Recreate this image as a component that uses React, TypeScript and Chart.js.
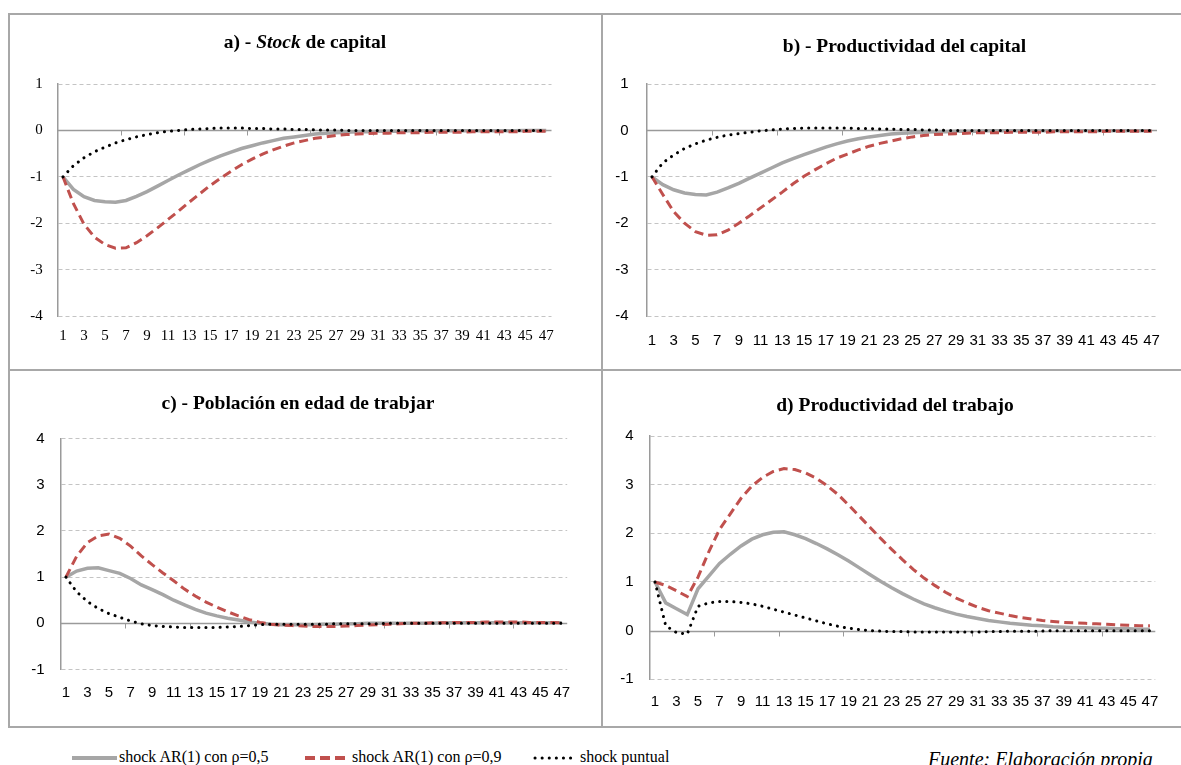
import React, { useEffect, useRef } from 'react';
import { Chart, registerables } from 'chart.js';

Chart.register(...registerables);

// ---------- DATA ----------
const periods = [
  '1', '2', '3', '4', '5', '6', '7', '8', '9', '10',
  '11', '12', '13', '14', '15', '16', '17', '18', '19', '20',
  '21', '22', '23', '24', '25', '26', '27', '28', '29', '30',
  '31', '32', '33', '34', '35', '36', '37', '38', '39', '40',
  '41', '42', '43', '44', '45', '46', '47',
];

const seriesNames = ['shock AR(1) con ρ=0,5', 'shock AR(1) con ρ=0,9', 'shock puntual'];

// a) Stock de capital
const stockAR05 = [
  -1.0, -1.27, -1.43, -1.51, -1.54, -1.55, -1.51, -1.42, -1.32, -1.2,
  -1.08, -0.96, -0.85, -0.74, -0.64, -0.55, -0.47, -0.39, -0.33, -0.27,
  -0.22, -0.17, -0.14, -0.11, -0.08, -0.06, -0.05, -0.04, -0.03, -0.03,
  -0.02, -0.02, -0.02, -0.01, -0.01, -0.01, -0.01, -0.01, -0.01, -0.01,
  -0.01, -0.01, -0.01, -0.01, 0, 0, 0,
];
const stockAR09 = [
  -1.0, -1.58, -2.02, -2.3, -2.46, -2.54, -2.53, -2.42, -2.27, -2.1,
  -1.92, -1.74, -1.55, -1.37, -1.19, -1.03, -0.88, -0.74, -0.62, -0.51,
  -0.42, -0.34, -0.27, -0.22, -0.17, -0.14, -0.11, -0.09, -0.08, -0.07,
  -0.06, -0.06, -0.05, -0.05, -0.05, -0.04, -0.04, -0.04, -0.04, -0.03,
  -0.03, -0.03, -0.03, -0.03, -0.02, -0.02, -0.02,
];
const stockPuntual = [
  -1.0, -0.76, -0.59, -0.46, -0.36, -0.27, -0.2, -0.14, -0.09, -0.05,
  -0.02, 0.0, 0.02, 0.03, 0.04, 0.05, 0.05, 0.05, 0.04, 0.04,
  0.03, 0.03, 0.02, 0.02, 0.01, 0.01, 0.01, 0, 0, 0,
  0, 0, 0, 0, 0, 0, 0, 0, 0, 0,
  0, 0, 0, 0, 0, 0, 0,
];

// b) Productividad del capital
const prodCapAR05 = [
  -1.0, -1.17, -1.28, -1.35, -1.38, -1.39, -1.33, -1.24, -1.14, -1.03,
  -0.92, -0.81, -0.7, -0.61, -0.52, -0.44, -0.36, -0.29, -0.23, -0.18,
  -0.14, -0.11, -0.08, -0.06, -0.05, -0.04, -0.03, -0.03, -0.02, -0.02,
  -0.02, -0.01, -0.01, -0.01, -0.01, -0.01, -0.01, -0.01, -0.01, -0.01,
  -0.01, -0.01, -0.01, -0.01, -0.01, -0.01, -0.01,
];
const prodCapAR09 = [
  -1.0, -1.38, -1.75, -2.0, -2.18, -2.26, -2.25, -2.15, -2.0, -1.84,
  -1.67, -1.5, -1.33, -1.15, -0.99, -0.85, -0.72, -0.6, -0.51, -0.42,
  -0.34, -0.28, -0.23, -0.18, -0.14, -0.11, -0.09, -0.08, -0.07, -0.06,
  -0.05, -0.05, -0.05, -0.04, -0.04, -0.04, -0.04, -0.03, -0.03, -0.03,
  -0.03, -0.03, -0.02, -0.02, -0.02, -0.02, -0.02,
];
const prodCapPuntual = [
  -1.0, -0.7, -0.53, -0.39, -0.29, -0.21, -0.15, -0.1, -0.07, -0.04,
  -0.01, 0.01, 0.03, 0.04, 0.05, 0.05, 0.05, 0.05, 0.05, 0.04,
  0.04, 0.03, 0.03, 0.02, 0.02, 0.01, 0.01, 0, 0, 0,
  0, 0, 0, 0, 0, 0, 0, 0, 0, 0,
  0, 0, 0, 0, 0, 0, 0,
];

// c) Población en edad de trabajar
const poblAR05 = [
  1.0, 1.13, 1.19, 1.2, 1.14, 1.08, 0.97, 0.83, 0.73, 0.62,
  0.5, 0.4, 0.3, 0.22, 0.16, 0.11, 0.07, 0.03, 0.0, -0.02,
  -0.03, -0.03, -0.03, -0.03, -0.02, -0.02, -0.01, -0.01, 0, 0,
  0, 0, 0, 0, 0, 0.01, 0.01, 0.01, 0.01, 0.01,
  0.01, 0.01, 0.01, 0.01, 0.01, 0.01, 0.01,
];
const poblAR09 = [
  1.0, 1.45, 1.75, 1.89, 1.93, 1.84, 1.67, 1.46, 1.27, 1.09,
  0.92, 0.74, 0.59, 0.46, 0.35, 0.25, 0.16, 0.08, 0.02, -0.02,
  -0.04, -0.05, -0.06, -0.07, -0.07, -0.07, -0.06, -0.05, -0.04, -0.03,
  -0.02, -0.01, 0.0, 0.0, 0.01, 0.01, 0.02, 0.02, 0.02, 0.03,
  0.03, 0.03, 0.03, 0.02, 0.02, 0.02, 0.01,
];
const poblPuntual = [
  1.0, 0.68, 0.47, 0.32, 0.21, 0.13, 0.05, -0.01, -0.05, -0.07,
  -0.08, -0.09, -0.09, -0.09, -0.09, -0.08, -0.07, -0.05, -0.03, -0.02,
  -0.02, -0.02, -0.02, -0.02, -0.02, -0.01, -0.01, -0.01, -0.01, -0.01,
  0, 0, 0, 0, 0, 0, 0, 0, 0, 0,
  0, 0, 0, 0, 0, 0, 0,
];

// d) Productividad del trabajo
const prodTrabAR05 = [
  1.0, 0.57, 0.45, 0.33, 0.86, 1.12, 1.38, 1.57, 1.74, 1.88,
  1.97, 2.02, 2.03, 1.97, 1.89, 1.79, 1.68, 1.56, 1.43, 1.29,
  1.15, 1.01, 0.88, 0.76, 0.65, 0.55, 0.47, 0.4, 0.34, 0.29,
  0.25, 0.21, 0.18, 0.15, 0.13, 0.11, 0.1, 0.08, 0.07, 0.06,
  0.06, 0.05, 0.05, 0.04, 0.04, 0.03, 0.03,
];
const prodTrabAR09 = [
  1.0, 0.93, 0.82, 0.7, 1.1, 1.62, 2.08, 2.4, 2.72, 2.97,
  3.15, 3.27, 3.33, 3.31, 3.24, 3.13, 2.98, 2.8, 2.58, 2.35,
  2.12, 1.89, 1.67, 1.46, 1.26, 1.08, 0.93, 0.79, 0.67, 0.57,
  0.48, 0.41, 0.36, 0.31, 0.27, 0.24, 0.21, 0.19, 0.17, 0.16,
  0.15, 0.14, 0.13, 0.12, 0.11, 0.1, 0.1,
];
const prodTrabPuntual = [
  1.0, 0.1, -0.04, -0.07, 0.5, 0.57, 0.6, 0.6, 0.58, 0.55,
  0.5, 0.44, 0.38, 0.32, 0.26, 0.2, 0.14, 0.09, 0.05, 0.02,
  0.0, -0.01, -0.02, -0.02, -0.03, -0.03, -0.03, -0.03, -0.03, -0.03,
  -0.03, -0.02, -0.02, -0.01, -0.01, -0.01, -0.01, 0, 0, 0,
  0, 0, 0, 0, 0, 0, 0,
];

// ---------- STYLE ----------
const GRAY = '#a6a6a6';
const RED = '#c0504d';
const BLACK = '#000000';
const AXIS = '#9a9a9a';
const GRID = '#c4c4c4';
const SERIF = "'Liberation Serif', 'Times New Roman', serif";
const SANS = "'Liberation Sans Narrow', 'Liberation Sans', Arial, sans-serif";

type Rect = { left: number; top: number; width: number; height: number };
type Area = { left: number; top: number; right: number; bottom: number };
type Spec = {
  key: string;
  canvas: Rect;
  area: Area;
  yMin: number;
  yMax: number;
  font: string;
  fontSize: number;
  xPad: number;
  yPad: number;
  series: number[][];
};

const specs: Spec[] = [
  {
    key: 'a',
    canvas: { left: 10, top: 15, width: 591, height: 354 },
    area: { left: 57.7, top: 84, right: 551.5, bottom: 316 },
    yMin: -4, yMax: 1, font: SERIF, fontSize: 15, xPad: 11, yPad: 15,
    series: [stockAR05, stockAR09, stockPuntual],
  },
  {
    key: 'b',
    canvas: { left: 603, top: 15, width: 578, height: 354 },
    area: { left: 646.5, top: 84, right: 1157, bottom: 316 },
    yMin: -4, yMax: 1, font: SANS, fontSize: 15, xPad: 15.5, yPad: 18,
    series: [prodCapAR05, prodCapAR09, prodCapPuntual],
  },
  {
    key: 'c',
    canvas: { left: 10, top: 372, width: 591, height: 354 },
    area: { left: 60.5, top: 438.5, right: 567.2, bottom: 669.5 },
    yMin: -1, yMax: 4, font: SANS, fontSize: 15, xPad: 14, yPad: 16,
    series: [poblAR05, poblAR09, poblPuntual],
  },
  {
    key: 'd',
    canvas: { left: 603, top: 372, width: 578, height: 354 },
    area: { left: 649.6, top: 436, right: 1155.3, bottom: 679.3 },
    yMin: -1, yMax: 4, font: SANS, fontSize: 15, xPad: 13.5, yPad: 16,
    series: [prodTrabAR05, prodTrabAR09, prodTrabPuntual],
  },
];

function Panel({ spec }: { spec: Spec }) {
  const ref = useRef<HTMLCanvasElement | null>(null);

  useEffect(() => {
    const el = ref.current;
    if (!el) return;
    const { canvas, area } = spec;

    const zeroAxis = {
      id: 'zeroAxis',
      beforeDatasetsDraw(chart: any) {
        const { ctx, chartArea, scales } = chart;
        const y0 = Math.round(scales.y.getPixelForValue(0)) + 0.5;
        ctx.save();
        ctx.strokeStyle = AXIS;
        ctx.lineWidth = 1.5;
        ctx.setLineDash([]);
        ctx.beginPath();
        ctx.moveTo(chartArea.left, y0);
        ctx.lineTo(chartArea.right, y0);
        ctx.stroke();
        ctx.lineWidth = 1;
        for (let k = 6; k < periods.length; k += 6) {
          const x = Math.round((scales.x.getPixelForValue(k - 1) + scales.x.getPixelForValue(k)) / 2) + 0.5;
          ctx.beginPath();
          ctx.moveTo(x, y0);
          ctx.lineTo(x, y0 + 5);
          ctx.stroke();
        }
        ctx.restore();
      },
    };

    const chart = new Chart(el, {
      type: 'line',
      data: {
        labels: periods,
        datasets: [
          {
            label: seriesNames[0],
            data: spec.series[0],
            borderColor: GRAY,
            backgroundColor: GRAY,
            borderWidth: 3.5,
            pointRadius: 0,
            tension: 0,
            order: 3,
          },
          {
            label: seriesNames[1],
            data: spec.series[1],
            borderColor: RED,
            backgroundColor: RED,
            borderWidth: 3,
            borderDash: [9, 5],
            pointRadius: 0,
            tension: 0,
            order: 2,
          },
          {
            label: seriesNames[2],
            data: spec.series[2],
            borderColor: BLACK,
            backgroundColor: BLACK,
            borderWidth: 3,
            borderDash: [0.1, 7],
            borderCapStyle: 'round',
            pointRadius: 0,
            tension: 0,
            order: 1,
          },
        ],
      },
      options: {
        responsive: false,
        maintainAspectRatio: false,
        animation: false,
        devicePixelRatio: 1,
        layout: {
          padding: {
            left: 0,
            top: area.top - canvas.top,
            right: canvas.left + canvas.width - area.right,
            bottom: 0,
          },
        },
        plugins: {
          legend: { display: false },
          tooltip: { enabled: false },
          title: { display: false },
        },
        scales: {
          x: {
            type: 'category',
            offset: true,
            grid: { display: false, drawTicks: false },
            border: { display: false },
            ticks: {
              autoSkip: false,
              maxRotation: 0,
              minRotation: 0,
              padding: spec.xPad,
              color: '#000',
              font: { family: spec.font, size: spec.fontSize },
              callback: (_v: any, i: number) => (i % 2 === 0 ? periods[i] : ''),
            },
            afterFit: (s: any) => {
              s.height = canvas.top + canvas.height - area.bottom;
            },
          },
          y: {
            min: spec.yMin,
            max: spec.yMax,
            grid: {
              drawTicks: false,
              lineWidth: 1,
              color: (ctx: any) => (ctx.tick && ctx.tick.value === 0 ? 'rgba(0,0,0,0)' : GRID),
            },
            border: { display: true, color: AXIS, width: 1.5, dash: [4, 3] },
            ticks: {
              stepSize: 1,
              padding: spec.yPad,
              color: '#000',
              font: { family: spec.font, size: spec.fontSize },
              callback: (v: any) => String(v),
            },
            afterFit: (s: any) => {
              s.width = area.left - canvas.left;
            },
          },
        },
      },
      plugins: [zeroAxis],
    } as any);

    return () => chart.destroy();
  }, [spec]);

  const { canvas } = spec;
  return (
    <canvas
      ref={ref}
      width={canvas.width}
      height={canvas.height}
      style={{
        position: 'absolute',
        left: canvas.left,
        top: canvas.top,
        width: canvas.width,
        height: canvas.height,
      }}
    />
  );
}

const titleStyle = (cx: number, baseline: number): React.CSSProperties => ({
  position: 'absolute',
  left: cx - 300,
  width: 600,
  top: baseline - 16.4,
  lineHeight: '20px',
  textAlign: 'center',
  fontFamily: SERIF,
  fontWeight: 'bold',
  fontSize: 19.5,
  color: '#000',
  whiteSpace: 'nowrap',
});

const line = (s: React.CSSProperties): React.CSSProperties => ({
  position: 'absolute',
  background: '#a8a8a8',
  ...s,
});

const legendText = (left: number): React.CSSProperties => ({
  position: 'absolute',
  left,
  top: 747,
  lineHeight: '20px',
  fontFamily: SERIF,
  fontSize: 16,
  color: '#000',
  whiteSpace: 'nowrap',
});

export default function App() {
  return (
    <div
      style={{
        position: 'absolute',
        left: 0,
        top: 0,
        width: 1181,
        height: 765,
        background: '#fff',
        overflow: 'hidden',
      }}
    >
      {/* frame */}
      <div style={line({ left: 8, top: 12.5, width: 1181 - 8, height: 2 })} />
      <div style={line({ left: 8, top: 12.5, width: 2, height: 715 })} />
      <div style={line({ left: 601.3, top: 12.5, width: 2, height: 715 })} />
      <div style={line({ left: 8, top: 369, width: 1181 - 8, height: 2 })} />
      <div style={line({ left: 8, top: 725.5, width: 1181 - 8, height: 2 })} />

      {specs.map((s) => (
        <Panel key={s.key} spec={s} />
      ))}

      <div style={titleStyle(305, 48.3)}>
        a) - <i>Stock</i> de capital
      </div>
      <div style={titleStyle(904.5, 52.7)}>b) - Productividad del capital</div>
      <div style={titleStyle(298, 409.3)}>c) - Población en edad de trabjar</div>
      <div style={titleStyle(895, 411.7)}>d) Productividad del trabajo</div>

      {/* legend */}
      <svg style={{ position: 'absolute', left: 70, top: 751, width: 48, height: 14 }}>
        <line x1="2" y1="7" x2="47" y2="7" stroke={GRAY} strokeWidth="4" />
      </svg>
      <div style={legendText(119)}>{seriesNames[0]}</div>
      <svg style={{ position: 'absolute', left: 303, top: 751, width: 46, height: 14 }}>
        <line x1="2" y1="7" x2="44" y2="7" stroke={RED} strokeWidth="4" strokeDasharray="10 5" />
      </svg>
      <div style={legendText(352)}>{seriesNames[1]}</div>
      <svg style={{ position: 'absolute', left: 532, top: 751, width: 46, height: 14 }}>
        <line x1="3" y1="7" x2="44" y2="7" stroke={BLACK} strokeWidth="3" strokeDasharray="0.1 7" strokeLinecap="round" />
      </svg>
      <div style={legendText(580)}>{seriesNames[2]}</div>

      <div
        style={{
          position: 'absolute',
          left: 928,
          top: 748,
          lineHeight: '22px',
          fontFamily: SERIF,
          fontStyle: 'italic',
          fontSize: 20,
          color: '#000',
          whiteSpace: 'nowrap',
        }}
      >
        Fuente: Elaboración propia
      </div>
    </div>
  );
}
